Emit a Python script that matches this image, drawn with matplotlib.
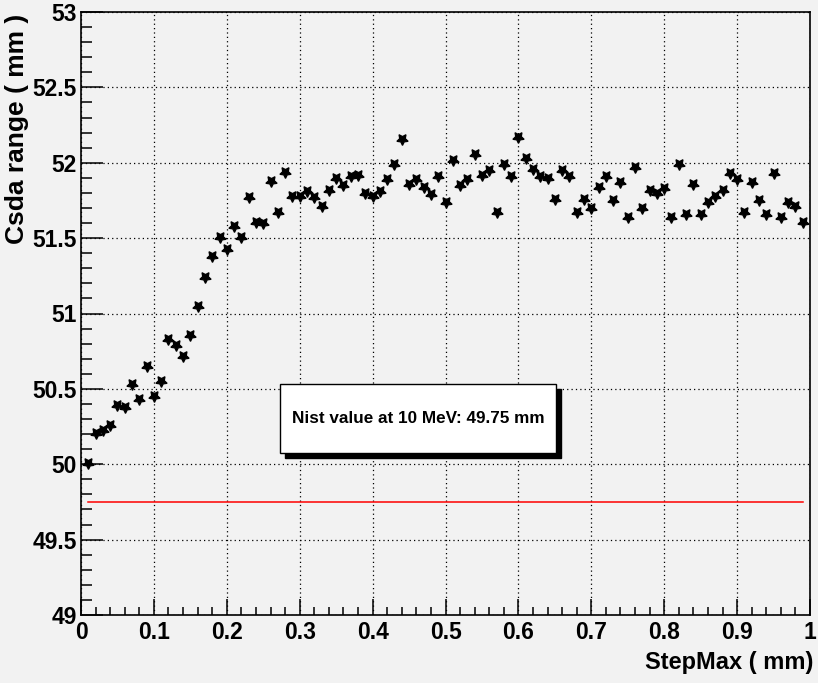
import matplotlib
matplotlib.use("Agg")
import matplotlib.pyplot as plt
from matplotlib.patches import Rectangle
from matplotlib.ticker import MultipleLocator
import numpy as np

step_max = [round(0.01 * i, 2) for i in range(1, 100)]
csda_range = [
    50.01, 50.21, 50.23, 50.26, 50.39, 50.38, 50.53, 50.43, 50.65, 50.45,
    50.55, 50.83, 50.79, 50.72, 50.86, 51.05, 51.24, 51.38, 51.51, 51.43,
    51.58, 51.51, 51.77, 51.61, 51.60, 51.88, 51.67, 51.94, 51.78, 51.78,
    51.81, 51.77, 51.71, 51.82, 51.90, 51.85, 51.91, 51.92, 51.80, 51.78,
    51.81, 51.89, 51.99, 52.16, 51.86, 51.89, 51.84, 51.79, 51.91, 51.74,
    52.02, 51.85, 51.89, 52.06, 51.92, 51.95, 51.67, 51.99, 51.91, 52.17,
    52.03, 51.96, 51.91, 51.90, 51.76, 51.95, 51.91, 51.67, 51.76, 51.70,
    51.84, 51.91, 51.75, 51.87, 51.64, 51.97, 51.70, 51.82, 51.80, 51.83,
    51.64, 51.99, 51.66, 51.86, 51.66, 51.74, 51.78, 51.82, 51.93, 51.89,
    51.67, 51.87, 51.75, 51.66, 51.93, 51.64, 51.74, 51.71, 51.61,
]
nist_value = 49.75
nist_x = [0.01, 0.99]
nist_label = "Nist value at 10 MeV: 49.75 mm"
x_label = "StepMax ( mm)"
y_label = "Csda range ( mm )"

plt.rcParams["font.family"] = ["Liberation Sans", "DejaVu Sans"]
plt.rcParams["font.weight"] = "bold"

bg = "#f2f2f2"
fig = plt.figure(figsize=(8.18, 6.83), dpi=100, facecolor=bg)
ax = fig.add_axes([81 / 818, 1 - 615 / 683, 729 / 818, 603 / 683], facecolor=bg)

ax.plot(step_max, csda_range, linestyle="none", marker=(5, 1, 180),
        markersize=8.5, color="black", markeredgewidth=0.9)
ax.plot(nist_x, [nist_value, nist_value], color="red", lw=1.1)

ax.set_xlim(0, 1)
ax.set_ylim(49, 53)
ax.xaxis.set_major_locator(MultipleLocator(0.1))
ax.xaxis.set_minor_locator(MultipleLocator(0.02))
ax.yaxis.set_major_locator(MultipleLocator(0.5))
ax.yaxis.set_minor_locator(MultipleLocator(0.1))
ax.xaxis.set_major_formatter(matplotlib.ticker.FuncFormatter(lambda v, p: f"{v:g}"))
ax.yaxis.set_major_formatter(matplotlib.ticker.FuncFormatter(lambda v, p: f"{v:g}"))

ax.tick_params(axis="both", which="both", direction="in", colors="black",
               labelsize=16.5, width=1.1)
ax.tick_params(axis="x", which="major", length=11.5, pad=4)
ax.tick_params(axis="x", which="minor", length=5.8)
ax.tick_params(axis="y", which="major", length=15.8, pad=3)
ax.tick_params(axis="y", which="minor", length=7.9)
for lab in ax.get_xticklabels() + ax.get_yticklabels():
    lab.set_fontweight("bold")

for s in ax.spines.values():
    s.set_linewidth(1.2)
    s.set_color("black")

ax.grid(True, which="major", color="black", linestyle=(0, (1, 2.5)), lw=0.9)
ax.set_axisbelow(True)

ax.set_xlabel(x_label, fontsize=17, fontweight="bold")
ax.xaxis.label.set_ha("right")
ax.xaxis.label.set_va("center")
ax.xaxis.set_label_coords(1.004, -0.0796)

ax.set_ylabel(y_label, fontsize=19, fontweight="bold")
ax.yaxis.label.set_rotation_mode("default")
ax.yaxis.label.set_ha("center")
ax.yaxis.label.set_va("top")
ax.yaxis.set_label_coords((17 - 81) / 729, 0.997)

# text box with shadow (axes-fraction coordinates)
bx0, bx1 = (280 - 81) / 729, (556 - 81) / 729
by0, by1 = (615 - 453) / 603, (615 - 384) / 603
dx, dy = 5 / 729, -5 / 603
ax.add_patch(Rectangle((bx0 + dx, by0 + dy), bx1 - bx0, by1 - by0,
                       transform=ax.transAxes, facecolor="black",
                       edgecolor="black", zorder=5))
ax.add_patch(Rectangle((bx0, by0), bx1 - bx0, by1 - by0,
                       transform=ax.transAxes, facecolor="white",
                       edgecolor="black", lw=1.0, zorder=6))
ax.text((bx0 + bx1) / 2, (by0 + by1) / 2, nist_label, transform=ax.transAxes,
        ha="center", va="center", fontsize=12.3, fontweight="bold", zorder=7)

fig.savefig("out.png", dpi=100, facecolor=bg)
